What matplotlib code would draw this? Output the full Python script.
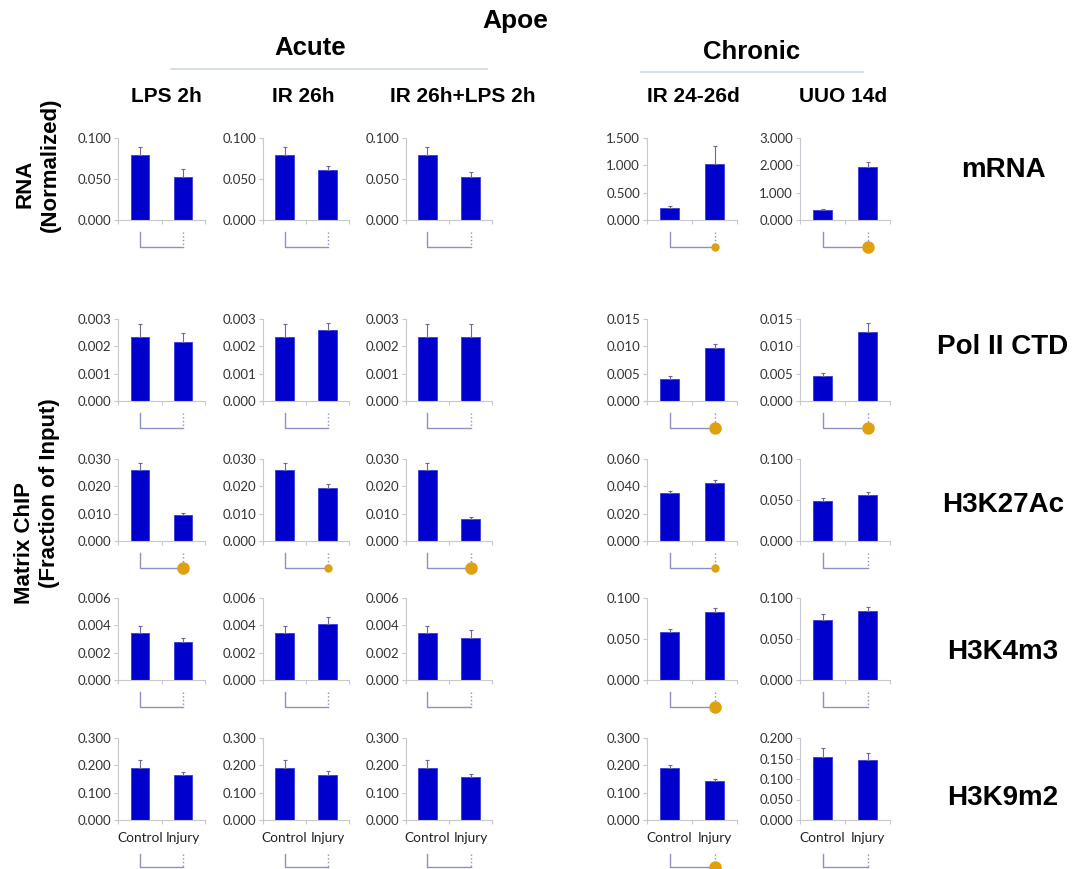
import matplotlib.pyplot as plt
import numpy as np

conditions = ['LPS 2h', 'IR 26h', 'IR 26h+LPS 2h', 'IR 24-26d', 'UUO 14d']
marks = ['mRNA', 'Pol II CTD', 'H3K27Ac', 'H3K4m3', 'H3K9m2']
groups = ['Control', 'Injury']

# (control, injury) per condition
mrna_vals = [(0.079, 0.052), (0.079, 0.061), (0.079, 0.052), (0.224, 1.02), (0.363, 1.95)]
mrna_err = [(0.010, 0.010), (0.010, 0.005), (0.010, 0.007), (0.024, 0.33), (0.035, 0.18)]
pol2_vals = [(0.00233, 0.00215), (0.00233, 0.00259), (0.00233, 0.00235), (0.0041, 0.0097), (0.0045, 0.01265)]
pol2_err = [(0.00047, 0.00033), (0.00047, 0.00026), (0.00047, 0.00048), (0.0005, 0.0007), (0.0007, 0.0016)]
k27_vals = [(0.0259, 0.0094), (0.0259, 0.0193), (0.0259, 0.0079), (0.0352, 0.0424), (0.0488, 0.0562)]
k27_err = [(0.0026, 0.0009), (0.0026, 0.0015), (0.0026, 0.0007), (0.0015, 0.0025), (0.0033, 0.0041)]
k4_vals = [(0.00345, 0.00277), (0.00345, 0.00409), (0.00345, 0.00304), (0.0584, 0.0829), (0.0731, 0.0845)]
k4_err = [(0.00049, 0.00032), (0.00049, 0.00054), (0.00049, 0.00061), (0.0032, 0.0044), (0.0069, 0.0041)]
k9_vals = [(0.189, 0.163), (0.189, 0.163), (0.189, 0.1555), (0.190, 0.141), (0.1527, 0.1453)]
k9_err = [(0.029, 0.013), (0.029, 0.017), (0.029, 0.0125), (0.0096, 0.008), (0.022, 0.017)]

# axis max and tick step per panel
mrna_axis = [(0.1, 0.05), (0.1, 0.05), (0.1, 0.05), (1.5, 0.5), (3.0, 1.0)]
pol2_axis = [(0.003, 0.001), (0.003, 0.001), (0.003, 0.001), (0.015, 0.005), (0.015, 0.005)]
k27_axis = [(0.03, 0.01), (0.03, 0.01), (0.03, 0.01), (0.06, 0.02), (0.1, 0.05)]
k4_axis = [(0.006, 0.002), (0.006, 0.002), (0.006, 0.002), (0.1, 0.05), (0.1, 0.05)]
k9_axis = [(0.3, 0.1), (0.3, 0.1), (0.3, 0.1), (0.3, 0.1), (0.2, 0.05)]

# significance marker: 0 none, 1 small dot, 2 large dot
mrna_sig = [0, 0, 0, 1, 2]
pol2_sig = [0, 0, 0, 2, 2]
k27_sig = [2, 1, 2, 1, 0]
k4_sig = [0, 0, 0, 2, 0]
k9_sig = [0, 0, 0, 2, 0]

all_vals = [mrna_vals, pol2_vals, k27_vals, k4_vals, k9_vals]
all_err = [mrna_err, pol2_err, k27_err, k4_err, k9_err]
all_axis = [mrna_axis, pol2_axis, k27_axis, k4_axis, k9_axis]
all_sig = [mrna_sig, pol2_sig, k27_sig, k4_sig, k9_sig]

W, H = 1083, 869
fig = plt.figure(figsize=(W / 100, H / 100), dpi=100)

col_left = [118, 263, 406, 647, 800]
col_w = [87, 86, 86, 90, 90]
row_top = [138, 319, 459, 598, 738]
row_h = 82

bar_c = '#0000cc'
axis_c = '#c8c8d0'
brk_c = '#8f8fc8'
dot_c = '#e0a010'
tick_font = 'Lato'
head_font = 'Liberation Sans'

for r in range(5):
    for c in range(5):
        ax = fig.add_axes([col_left[c] / W, 1 - (row_top[r] + row_h) / H,
                           col_w[c] / W, row_h / H])
        vals = all_vals[r][c]
        errs = all_err[r][c]
        x = np.arange(2)
        ax.bar(x, vals, width=0.42, color=bar_c, edgecolor='#3a3ae0', linewidth=0.6, zorder=2)
        ax.errorbar(x, vals, yerr=[[0, 0], list(errs)], fmt='none', ecolor='#6a6a9a',
                    elinewidth=0.8, capsize=1.5, capthick=0.8, zorder=3)
        ymax, step = all_axis[r][c]
        ax.set_ylim(0, ymax)
        ax.set_yticks(np.arange(0, ymax + step / 2, step))
        ax.yaxis.set_major_formatter(plt.FormatStrFormatter('%.3f'))
        ax.set_xlim(-0.5, 1.5)
        ax.set_xticks([-0.5, 0.5, 1.5], minor=True)
        ax.set_xticks(x)
        if r == 4:
            ax.set_xticklabels(groups, fontsize=9.8, family=tick_font, color='#222222')
        else:
            ax.set_xticklabels([])
        ax.tick_params(axis='x', which='major', length=0, pad=9)
        ax.tick_params(axis='x', which='minor', length=3, color=axis_c, width=0.8)
        ax.tick_params(axis='y', length=3, color=axis_c, width=0.8, pad=2,
                       labelsize=9.5, labelcolor='#333333')
        for lab in ax.get_yticklabels():
            lab.set_family(tick_font)
        for s in ['top', 'right']:
            ax.spines[s].set_visible(False)
        for s in ['left', 'bottom']:
            ax.spines[s].set_color(axis_c)
            ax.spines[s].set_linewidth(0.8)

        # comparison bracket below each panel
        tr = ax.get_xaxis_transform()
        if r == 4:
            y0, y1 = -0.42, -0.57
        else:
            y0, y1 = -0.145, -0.325
        ax.plot([0, 0, 1], [y0, y1, y1], color=brk_c, lw=1, transform=tr, clip_on=False)
        ax.plot([1, 1], [y0, y1], color=brk_c, lw=1, ls=':', transform=tr, clip_on=False)
        sig = all_sig[r][c]
        if sig:
            ax.plot([1], [y1], 'o', color=dot_c, ms=5 if sig == 1 else 8,
                    transform=tr, clip_on=False, zorder=5)

# headings
fig.text(515 / W, 1 - 21 / H, 'Apoe', ha='center', va='center', fontsize=19,
         fontweight='bold', family=head_font)
fig.text(310 / W, 1 - 48 / H, 'Acute', ha='center', va='center', fontsize=18.5,
         fontweight='bold', family=head_font)
fig.text(752 / W, 1 - 52 / H, 'Chronic', ha='center', va='center', fontsize=18.5,
         fontweight='bold', family=head_font)
fig.add_artist(plt.Line2D([171 / W, 487 / W], [1 - 69 / H, 1 - 69 / H], color='#d0d8e8', lw=1.2))
fig.add_artist(plt.Line2D([641 / W, 863 / W], [1 - 72 / H, 1 - 72 / H], color='#d0d8e8', lw=1.2))

title_x = [166, 303, 463, 693, 843]
for cx, name in zip(title_x, conditions):
    fig.text(cx / W, 1 - 97 / H, name, ha='center', va='center', fontsize=15,
             fontweight='bold', family=head_font)

mark_y = [170, 347, 505, 652, 798]
for my, name in zip(mark_y, marks):
    fig.text(1003 / W, 1 - my / H, name, ha='center', va='center', fontsize=20,
             fontweight='bold', family=head_font)

side = dict(ha='center', va='center', rotation=90, fontsize=16, fontweight='bold',
            family=head_font)
fig.text(25 / W, 1 - 184 / H, 'RNA', **side)
fig.text(50 / W, 1 - 165 / H, '(Normalized)', **side)
fig.text(25 / W, 1 - 543 / H, 'Matrix ChIP', **side)
fig.text(50 / W, 1 - 493 / H, '(Fraction of Input)', **side)

fig.savefig('out.png', dpi=100)
